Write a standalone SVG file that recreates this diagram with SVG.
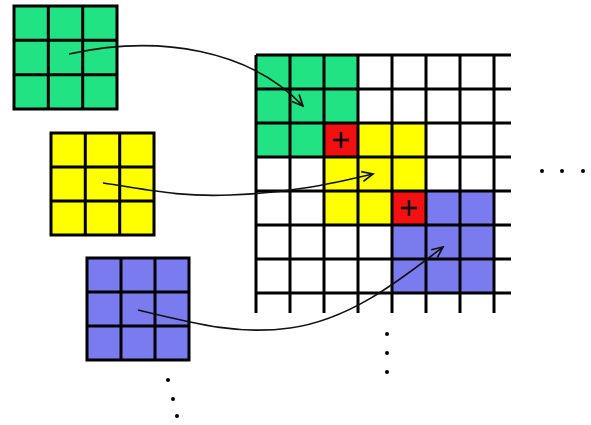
<svg xmlns="http://www.w3.org/2000/svg" width="591" height="425" viewBox="0 0 591 425">
<defs>
<style>
.g{fill:#22e383}.y{fill:#ffff00}.b{fill:#7b7bf0}.r{fill:#f21010}
.ln{stroke:#000;stroke-width:3;fill:none}
.ar{stroke:#111;stroke-width:1.7;fill:none}
.pl{stroke:#000;stroke-width:2.4;fill:none}
.dot{fill:#000}
</style>
<marker id="ah" markerWidth="14" markerHeight="14" viewBox="-12 -7 14 14" refX="0" refY="0" orient="auto" markerUnits="userSpaceOnUse">
<path d="M-11,-5 L0,0 L-11,5" fill="none" stroke="#111" stroke-width="1.7"/>
</marker>
</defs>
<rect width="591" height="425" fill="#fff"/>

<g id="kernel-green">
<rect class="g" x="14" y="6" width="103" height="103"/>
<path class="ln" d="M14,6H117V109H14Z M48.3,6V109 M82.7,6V109 M14,40.3H117 M14,74.7H117"/>
</g>

<g id="kernel-yellow">
<rect class="y" x="51" y="133" width="103" height="102"/>
<path class="ln" d="M51,133H154V235H51Z M85.3,133V235 M119.7,133V235 M51,167H154 M51,201H154"/>
</g>

<g id="kernel-blue">
<rect class="b" x="87" y="258" width="102" height="102"/>
<path class="ln" d="M87,258H189V360H87Z M121,258V360 M155,258V360 M87,292H189 M87,326H189"/>
</g>

<g id="feature-map">
<rect class="g" x="256" y="55" width="102" height="102"/>
<rect class="y" x="324" y="123" width="102" height="102"/>
<rect class="b" x="392" y="191" width="102" height="102"/>
<rect class="r" x="324" y="123" width="34" height="34"/>
<rect class="r" x="392" y="191" width="34" height="34"/>
<path class="ln" d="M256,55V313 M290,55V313 M324,55V313 M358,55V313 M392,55V313 M426,55V313 M460,55V313 M494,55V313
M256,55H511 M256,89H511 M256,123H511 M256,157H511 M256,191H511 M256,225H511 M256,259H511 M256,293H511"/>
<path class="pl" d="M333,140H349 M341,132V148 M401,208H417 M409,200V216"/>
</g>

<g id="connectors">
<path class="ar" d="M69,54 C160,34 250,50 303,106" marker-end="url(#ah)"/>
<path class="ar" d="M103,183 C150,190 180,197 230,195 C290,193 330,184 373,174" marker-end="url(#ah)"/>
<path class="ar" d="M138,310 C200,325 240,335 290,328 C350,320 400,280 443,247" marker-end="url(#ah)"/>
</g>

<g id="dots">
<circle class="dot" cx="542" cy="171" r="2"/>
<circle class="dot" cx="562" cy="171" r="2"/>
<circle class="dot" cx="583" cy="171" r="2"/>
<circle class="dot" cx="387" cy="334" r="2"/>
<circle class="dot" cx="387" cy="353" r="2"/>
<circle class="dot" cx="387" cy="372" r="2"/>
<circle class="dot" cx="168" cy="380" r="2"/>
<circle class="dot" cx="173" cy="399" r="2"/>
<circle class="dot" cx="177" cy="416" r="2"/>
</g>
</svg>
